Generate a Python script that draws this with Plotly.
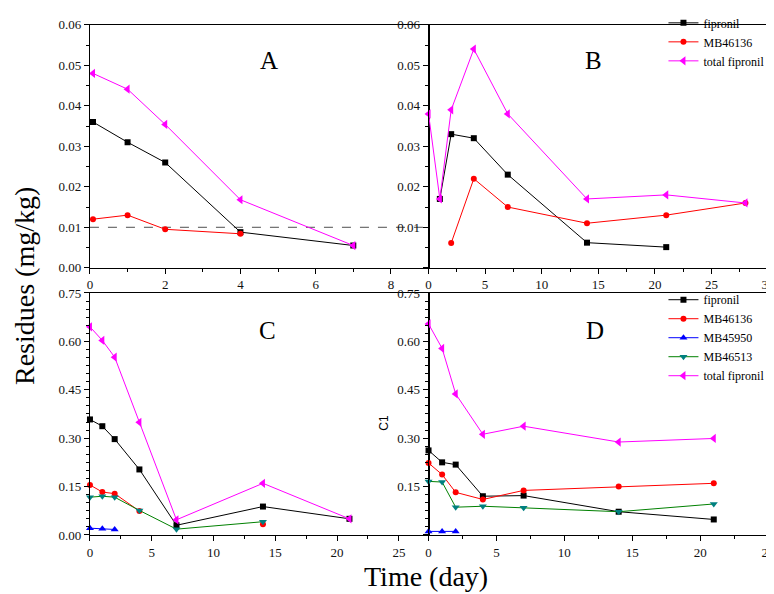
import plotly.graph_objects as go

# ---------------- data ----------------
# Panel A
A_days = [0.08, 1, 2, 4, 7]
A_fipronil = [0.036, 0.031, 0.026, 0.0088, 0.0055]
A_MB46136 = [0.012, 0.013, 0.0095, 0.0084, None]
A_total = [0.048, 0.0441, 0.0354, 0.0168, 0.0055]
LOQ = 0.01

# Panel B
B_days = [0, 1, 2, 4, 7, 14, 21, 28]
B_fipronil = [None, 0.017, 0.033, 0.032, 0.023, 0.0062, 0.0051, None]
B_MB46136 = [None, None, 0.0061, 0.022, 0.015, 0.011, 0.013, 0.016]
B_total = [0.038, 0.017, 0.039, 0.054, 0.038, 0.017, 0.018, 0.016]

# Panel C
C_days = [0, 1, 2, 4, 7, 14, 21]
C_fipronil = [0.358, 0.337, 0.297, 0.203, 0.030, 0.088, 0.050]
C_MB46136 = [0.155, 0.133, 0.128, 0.074, None, 0.033, None]
C_MB45950 = [0.021, 0.019, 0.017, None, None, None, None]
C_MB46513 = [0.117, 0.120, 0.117, 0.076, 0.018, 0.041, None]
C_total = [0.645, 0.603, 0.551, 0.349, 0.047, 0.160, 0.050]

# Panel D
D_days = [0, 1, 2, 4, 7, 14, 21]
D_fipronil = [0.262, 0.225, 0.218, 0.120, 0.122, 0.072, 0.048]
D_MB46136 = [0.223, 0.187, 0.132, 0.110, 0.138, 0.150, 0.160]
D_MB45950 = [0.011, 0.011, 0.011, None, None, None, None]
D_MB46513 = [0.166, 0.164, 0.086, 0.089, 0.084, 0.072, 0.096]
D_total = [0.654, 0.578, 0.437, 0.312, 0.337, 0.288, 0.299]

# tick labels
small_ticks = [0.00, 0.01, 0.02, 0.03, 0.04, 0.05, 0.06]
small_labels = ["0.00", "0.01", "0.02", "0.03", "0.04", "0.05", "0.06"]
big_ticks = [0.00, 0.15, 0.30, 0.45, 0.60, 0.75]
big_labels = ["0.00", "0.15", "0.30", "0.45", "0.60", "0.75"]

# ---------------- styles ----------------
SERIF = "Liberation Serif"
styles = {
    "fipronil": dict(mc="#000000", lc="#000000", sym="square", size=6),
    "MB46136": dict(mc="#ff0000", lc="#ff0000", sym="circle", size=6),
    "MB45950": dict(mc="#0000ff", lc="#0000ff", sym="triangle-up", size=7),
    "MB46513": dict(mc="#008080", lc="#008000", sym="triangle-down", size=7),
    "total fipronil": dict(mc="#ff00ff", lc="#ff00ff", sym="triangle-left", size=8),
}

fig = go.Figure()


def add(name, x, y, xa, ya, legend=None):
    s = styles[name]
    fig.add_trace(go.Scatter(
        x=x, y=y, name=name, mode="lines+markers",
        xaxis=xa, yaxis=ya, cliponaxis=False,
        line=dict(color=s["lc"], width=1),
        marker=dict(color=s["mc"], symbol=s["sym"], size=s["size"], line=dict(width=0)),
        showlegend=legend is not None,
        legend=legend if legend else "legend",
    ))


add("fipronil", A_days, A_fipronil, "x", "y")
add("MB46136", A_days, A_MB46136, "x", "y")
add("total fipronil", A_days, A_total, "x", "y")

add("fipronil", B_days, B_fipronil, "x2", "y2", "legend")
add("MB46136", B_days, B_MB46136, "x2", "y2", "legend")
add("total fipronil", B_days, B_total, "x2", "y2", "legend")

add("fipronil", C_days, C_fipronil, "x3", "y3")
add("MB46136", C_days, C_MB46136, "x3", "y3")
add("MB45950", C_days, C_MB45950, "x3", "y3")
add("MB46513", C_days, C_MB46513, "x3", "y3")
add("total fipronil", C_days, C_total, "x3", "y3")

add("fipronil", D_days, D_fipronil, "x4", "y4", "legend2")
add("MB46136", D_days, D_MB46136, "x4", "y4", "legend2")
add("MB45950", D_days, D_MB45950, "x4", "y4", "legend2")
add("MB46513", D_days, D_MB46513, "x4", "y4", "legend2")
add("total fipronil", D_days, D_total, "x4", "y4", "legend2")

W, H = 774, 594


def px_x(p):
    return p / W


def px_y(p):
    return 1 - p / H


common = dict(
    showline=True, linecolor="#000000", linewidth=1, mirror=True,
    ticks="outside", ticklen=5, tickwidth=1, tickcolor="#000000",
    showgrid=False, zeroline=False,
    tickfont=dict(family=SERIF, size=13, color="#111111"),
)


def xax(dom, rng, dtick, minor, anchor):
    return dict(common, domain=dom, range=rng, dtick=dtick, tick0=0, anchor=anchor,
                minor=dict(ticks="outside", ticklen=3, dtick=minor, tick0=0, tickcolor="#000000"))


def yax(dom, rng, tv, tt, minor, anchor):
    return dict(common, domain=dom, range=rng, tickmode="array", tickvals=tv, ticktext=tt,
                anchor=anchor,
                minor=dict(ticks="outside", ticklen=3, dtick=minor, tick0=0, tickcolor="#000000"))


xA = [px_x(80), px_x(423)]
xB = [px_x(423), px_x(767)]
yTop = [px_y(257), px_y(6)]
yBot = [px_y(533), px_y(283)]

small_labels_hidden0 = [""] + small_labels[1:]
big_labels_hidden0 = [""] + big_labels[1:]

fig.update_layout(
    width=W, height=H,
    margin=dict(l=0, r=0, t=0, b=0),
    paper_bgcolor="white", plot_bgcolor="white",
    font=dict(family=SERIF, color="#000000"),
    xaxis=xax(xA, [0, 9], 2, 1, "y"),
    yaxis=yax(yTop, [0, 0.06], small_ticks, small_labels, 0.005, "x"),
    xaxis2=xax(xB, [0, 30], 5, 2.5, "y2"),
    yaxis2=yax(yTop, [0, 0.06], small_ticks, small_labels_hidden0, 0.005, "x2"),
    xaxis3=xax(xA, [0, 27.4], 5, 2.5, "y3"),
    yaxis3=yax(yBot, [0, 0.75], big_ticks, big_labels, 0.025, "x3"),
    xaxis4=xax(xB, [0, 25], 5, 2.5, "y4"),
    yaxis4=yax(yBot, [0, 0.75], big_ticks, big_labels_hidden0, 0.025, "x4"),
    legend=dict(x=px_x(661), y=px_y(-11), xanchor="left", yanchor="top",
                bgcolor="rgba(0,0,0,0)", itemwidth=30,
                font=dict(family=SERIF, size=12, color="#000000"), tracegroupgap=0),
    legend2=dict(x=px_x(661), y=px_y(275), xanchor="left", yanchor="top",
                 bgcolor="rgba(0,0,0,0)", itemwidth=30,
                 font=dict(family=SERIF, size=12, color="#000000"), tracegroupgap=0),
)

# LOQ dashed line in panel A
fig.add_shape(type="line", xref="x domain", yref="y", x0=0, x1=1, y0=LOQ, y1=LOQ,
              line=dict(color="#222222", width=0.8, dash="dash"), layer="below")

# Panel letters and axis titles
letters = [("A", 261, 43), ("B", 590, 43), ("C", 260, 322), ("D", 592, 322)]
for t, xp, yp in letters:
    fig.add_annotation(text=t, x=px_x(xp), y=px_y(yp), xref="paper", yref="paper",
                       xanchor="center", yanchor="middle",
                       showarrow=False, font=dict(family=SERIF, size=25, color="#000000"))

fig.add_annotation(text="Residues (mg/kg)", textangle=-90, x=px_x(13), y=px_y(276),
                   xref="paper", yref="paper", xanchor="center", yanchor="middle",
                   showarrow=False, font=dict(family=SERIF, size=28, color="#000000"))
fig.add_annotation(text="Time (day)", x=px_x(420), y=px_y(576), xref="paper", yref="paper",
                   xanchor="center", yanchor="middle",
                   showarrow=False, font=dict(family=SERIF, size=28, color="#000000"))
fig.add_annotation(text="C1", textangle=-90, x=px_x(378), y=px_y(417), xref="paper", yref="paper",
                   xanchor="center", yanchor="middle",
                   showarrow=False, font=dict(family="Liberation Sans", size=12, color="#000000"))

fig.write_html("out.html")
